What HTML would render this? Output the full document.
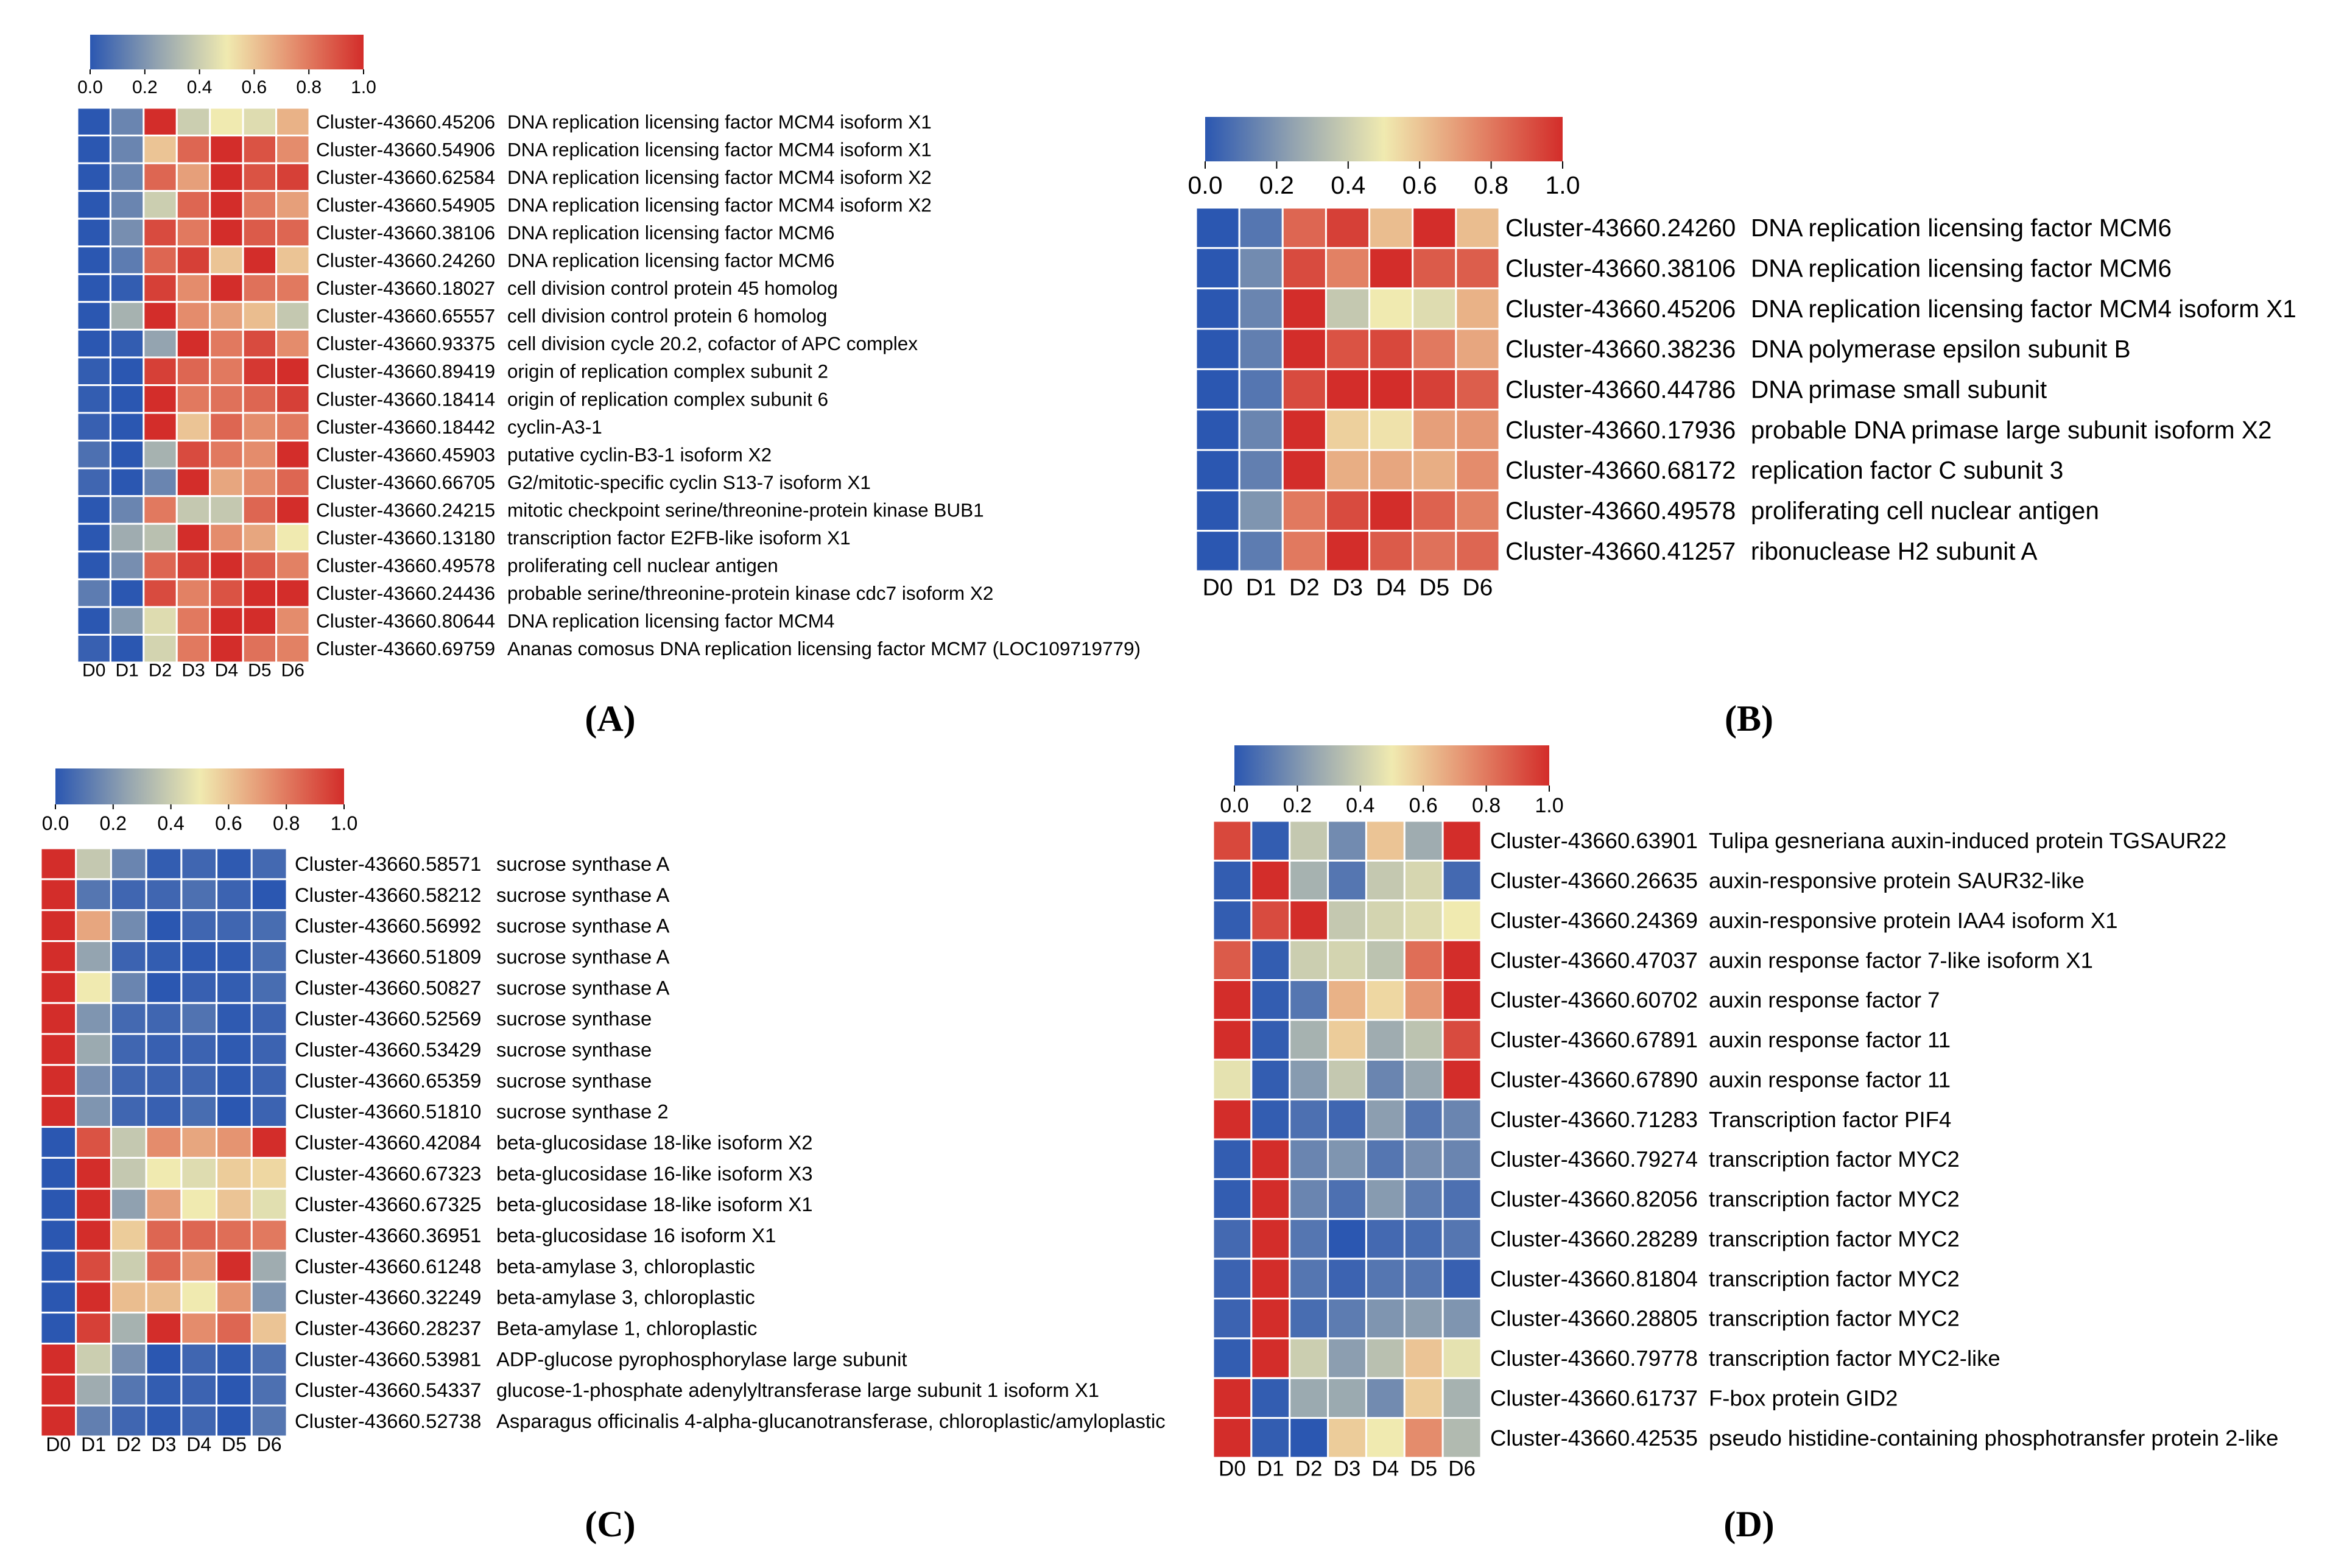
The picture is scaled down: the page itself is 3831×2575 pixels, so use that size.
<!DOCTYPE html>
<html><head><meta charset="utf-8"><style>
html,body{margin:0;padding:0;background:#fff;}
svg{display:block;font-family:"Liberation Sans",Arial,sans-serif;}
</style></head><body>
<svg id="fig" width="3831" height="2575" viewBox="0 0 3831 2575" xmlns="http://www.w3.org/2000/svg">
<defs>
<linearGradient id="cmap" x1="0" x2="1" y1="0" y2="0">
<stop offset="0" stop-color="#2b57b1"/><stop offset="0.25" stop-color="#94a4b0"/><stop offset="0.5" stop-color="#f0eab0"/><stop offset="0.75" stop-color="#e48c6c"/><stop offset="1" stop-color="#d32d2a"/>
</linearGradient>
</defs>
<text x="1002" y="1200" font-family="Liberation Serif,serif" font-weight="bold" font-size="60" text-anchor="middle">(A)</text>
<text x="2872" y="1200" font-family="Liberation Serif,serif" font-weight="bold" font-size="60" text-anchor="middle">(B)</text>
<text x="1002" y="2523" font-family="Liberation Serif,serif" font-weight="bold" font-size="60" text-anchor="middle">(C)</text>
<text x="2872" y="2523" font-family="Liberation Serif,serif" font-weight="bold" font-size="60" text-anchor="middle">(D)</text>
</svg>
<script>
const days = ["D0","D1","D2","D3","D4","D5","D6"];
const ticks = ["0.0","0.2","0.4","0.6","0.8","1.0"];

const idsA = ["45206","54906","62584","54905","38106","24260","18027","65557","93375","89419","18414","18442","45903","66705","24215","13180","49578","24436","80644","69759"];
const namesA = ["DNA replication licensing factor MCM4 isoform X1","DNA replication licensing factor MCM4 isoform X1","DNA replication licensing factor MCM4 isoform X2","DNA replication licensing factor MCM4 isoform X2","DNA replication licensing factor MCM6","DNA replication licensing factor MCM6","cell division control protein 45 homolog","cell division control protein 6 homolog","cell division cycle 20.2, cofactor of APC complex","origin of replication complex subunit 2","origin of replication complex subunit 6","cyclin-A3-1","putative cyclin-B3-1 isoform X2","G2/mitotic-specific cyclin S13-7 isoform X1","mitotic checkpoint serine/threonine-protein kinase BUB1","transcription factor E2FB-like isoform X1","proliferating cell nuclear antigen","probable serine/threonine-protein kinase cdc7 isoform X2","DNA replication licensing factor MCM4","Ananas comosus DNA replication licensing factor MCM7 (LOC109719779)"];
const valuesA = [
[0,0.15,1,0.4,0.5,0.45,0.65],[0,0.15,0.6,0.85,1,0.9,0.75],[0,0.15,0.85,0.7,1,0.9,0.95],[0,0.15,0.4,0.85,1,0.8,0.7],
[0,0.18,0.92,0.8,1,0.88,0.85],[0,0.12,0.85,0.95,0.6,1,0.6],[0,0.02,0.95,0.75,1,0.82,0.8],[0,0.3,1,0.75,0.7,0.62,0.38],
[0,0.02,0.25,1,0.8,0.92,0.75],[0.02,0,0.95,0.85,0.8,0.97,1],[0.02,0,1,0.8,0.82,0.85,0.95],[0.03,0,1,0.6,0.85,0.75,0.8],
[0.08,0,0.3,0.92,0.8,0.75,1],[0.05,0,0.15,1,0.68,0.75,0.85],[0,0.15,0.8,0.38,0.38,0.85,1],[0,0.28,0.35,1,0.75,0.68,0.5],
[0,0.18,0.85,0.95,1,0.88,0.78],[0.12,0,0.92,0.78,0.9,1,1],[0,0.22,0.45,0.8,1,1,0.75],[0.03,0,0.42,0.8,1,0.82,0.78]];

const idsB = ["24260","38106","45206","38236","44786","17936","68172","49578","41257"];
const namesB = ["DNA replication licensing factor MCM6","DNA replication licensing factor MCM6","DNA replication licensing factor MCM4 isoform X1","DNA polymerase epsilon subunit B","DNA primase small subunit","probable DNA primase large subunit isoform X2","replication factor C subunit 3","proliferating cell nuclear antigen","ribonuclease H2 subunit A"];
const valuesB = [
[0,0.1,0.85,0.95,0.62,1,0.62],[0,0.17,0.92,0.78,1,0.88,0.87],[0,0.15,1,0.38,0.5,0.45,0.65],[0,0.13,1,0.9,0.93,0.8,0.68],
[0,0.1,0.92,1,1,0.95,0.87],[0,0.15,1,0.57,0.52,0.7,0.72],[0,0.13,1,0.66,0.68,0.66,0.75],[0,0.2,0.8,0.92,1,0.86,0.78],[0,0.12,0.8,1,0.88,0.82,0.85]];

const idsC = ["58571","58212","56992","51809","50827","52569","53429","65359","51810","42084","67323","67325","36951","61248","32249","28237","53981","54337","52738"];
const namesC = ["sucrose synthase A","sucrose synthase A","sucrose synthase A","sucrose synthase A","sucrose synthase A","sucrose synthase","sucrose synthase","sucrose synthase","sucrose synthase 2","beta-glucosidase 18-like isoform X2","beta-glucosidase 16-like isoform X3","beta-glucosidase 18-like isoform X1","beta-glucosidase 16 isoform X1","beta-amylase 3, chloroplastic","beta-amylase 3, chloroplastic","Beta-amylase 1, chloroplastic","ADP-glucose pyrophosphorylase large subunit","glucose-1-phosphate adenylyltransferase large subunit 1 isoform X1","Asparagus officinalis 4-alpha-glucanotransferase, chloroplastic/amyloplastic"];
const valuesC = [
[1,0.38,0.15,0.02,0.05,0.01,0.06],[1,0.1,0.05,0.05,0.08,0.04,0],[1,0.68,0.17,0,0.05,0.05,0.07],[1,0.25,0.04,0.02,0.01,0.01,0.07],
[1,0.5,0.15,0,0.03,0.02,0.07],[1,0.2,0.06,0.05,0.09,0.01,0.04],[1,0.27,0.05,0.03,0.04,0.01,0.04],[1,0.18,0.05,0.04,0.05,0.01,0.04],
[1,0.2,0.05,0.03,0.07,0,0.04],[0,0.9,0.38,0.75,0.68,0.73,1],[0,1,0.38,0.5,0.45,0.58,0.55],[0,1,0.24,0.7,0.5,0.6,0.46],
[0,1,0.58,0.85,0.85,0.83,0.8],[0,0.92,0.4,0.85,0.72,1,0.28],[0,1,0.62,0.62,0.5,0.73,0.2],[0,0.95,0.3,1,0.75,0.85,0.6],
[1,0.4,0.18,0,0.05,0.01,0.08],[1,0.28,0.1,0.02,0.04,0,0.08],[1,0.13,0.05,0.01,0.05,0,0.1]];

const idsD = ["63901","26635","24369","47037","60702","67891","67890","71283","79274","82056","28289","81804","28805","79778","61737","42535"];
const namesD = ["Tulipa gesneriana auxin-induced protein TGSAUR22","auxin-responsive protein SAUR32-like","auxin-responsive protein IAA4 isoform X1","auxin response factor 7-like isoform X1","auxin response factor 7","auxin response factor 11","auxin response factor 11","Transcription factor PIF4","transcription factor MYC2","transcription factor MYC2","transcription factor MYC2","transcription factor MYC2","transcription factor MYC2","transcription factor MYC2-like","F-box protein GID2","pseudo histidine-containing phosphotransfer protein 2-like"];
const valuesD = [
[0.93,0.02,0.38,0.17,0.6,0.28,1],[0.02,1,0.3,0.1,0.38,0.43,0.06],[0.02,0.92,1,0.38,0.42,0.45,0.5],[0.88,0.02,0.4,0.42,0.36,0.83,1],
[1,0.02,0.1,0.65,0.55,0.72,1],[1,0.02,0.3,0.58,0.28,0.36,0.92],[0.47,0.02,0.22,0.38,0.15,0.26,1],[1,0.02,0.08,0.05,0.23,0.1,0.15],
[0.02,1,0.15,0.2,0.1,0.18,0.15],[0.02,1,0.15,0.08,0.22,0.12,0.08],[0.06,1,0.1,0,0.06,0.07,0.1],[0.04,1,0.1,0.04,0.1,0.1,0.03],
[0.04,1,0.07,0.12,0.2,0.23,0.2],[0.02,1,0.4,0.23,0.35,0.6,0.47],[1,0.02,0.27,0.27,0.17,0.58,0.3],[1,0.02,0,0.58,0.5,0.75,0.33]];

const stops=[[0,[43,87,177]],[0.25,[148,164,176]],[0.5,[240,234,176]],[0.75,[228,140,108]],[1,[211,45,42]]];
function color(v){
  v=Math.max(0,Math.min(1,v));
  for(let i=0;i<stops.length-1;i++){
    const a=stops[i],b=stops[i+1];
    if(v<=b[0]){const t=(v-a[0])/(b[0]-a[0]);
      return "rgb("+a[1].map((c,k)=>Math.round(c+(b[1][k]-c)*t)).join(",")+")";}
  }
  return "rgb(211,45,42)";
}
const NS="http://www.w3.org/2000/svg";
const svg=document.getElementById("fig");
function mk(tag,attrs,parent){const e=document.createElementNS(NS,tag);for(const k in attrs)e.setAttribute(k,attrs[k]);(parent||svg).appendChild(e);return e;}

function panel(p,ids,names,values,L){
  const g=mk("g",{});
  
  
  const cb=mk("rect",{x:L.cbx,y:L.cby,width:L.cbw,height:L.cbh,fill:"url(#cmap)"},g);
  
  
  ticks.forEach((t,i)=>{
    const x=L.cbx+L.cbw*i/(ticks.length-1);
    mk("line",{x1:x,x2:x,y1:L.cby+L.cbh,y2:L.cby+L.cbh+L.tl,stroke:"#000","stroke-width":2},g);
    const tx=mk("text",{x:x,y:L.tty,"font-size":L.tfs,"text-anchor":"middle"},g);
    tx.textContent=t;
    
    
  });
  const n=values.length, cw=(L.hx1-L.hx0)/days.length, rh=(L.hy1-L.hy0)/n;
  values.forEach((row,r)=>{
    row.forEach((v,c)=>{
      const rc=mk("rect",{x:L.hx0+c*cw,y:L.hy0+r*rh,width:cw,height:rh,fill:color(v),stroke:"#fff","stroke-width":L.sw},g);
      
      
    });
    const cy=L.hy0+(r+0.5)*rh;
    const t1=mk("text",{x:L.idx,y:cy,"font-size":L.fs,"dominant-baseline":"central"},g);
    t1.textContent="Cluster-43660."+ids[r];
    
    
    const t2=mk("text",{x:L.nx,y:cy,"font-size":L.fs,"dominant-baseline":"central"},g);
    t2.textContent=names[r];
    
    
  });
  days.forEach((d,c)=>{
    const t=mk("text",{x:L.hx0+(c+0.5)*cw,y:L.dy,"font-size":L.dfs,"text-anchor":"middle","dominant-baseline":"central"},g);
    t.textContent=d;
    
    
  });
}
panel("a",idsA,namesA,valuesA,{cbx:148,cby:57,cbw:449,cbh:57,tl:8,tty:153,tfs:30,hx0:127,hx1:508,hy0:177,hy1:1088,sw:3,idx:519,nx:833,fs:31.5,dy:1101,dfs:30});
panel("b",idsB,namesB,valuesB,{cbx:1979,cby:192,cbw:587,cbh:73,tl:12,tty:318,tfs:41,hx0:1964,hx1:2462,hy0:341,hy1:938,sw:3,idx:2472,nx:2875,fs:40.5,dy:965,dfs:39});
panel("c",idsC,namesC,valuesC,{cbx:91,cby:1262,cbw:474,cbh:59,tl:8,tty:1363,tfs:32,hx0:67,hx1:471,hy0:1393,hy1:2359,sw:3,idx:484,nx:815,fs:32.8,dy:2372,dfs:32});
panel("d",idsD,namesD,valuesD,{cbx:2027,cby:1224,cbw:517,cbh:66,tl:10,tty:1334,tfs:34,hx0:1992,hx1:2432,hy0:1348,hy1:2394,sw:3,idx:2447,nx:2806,fs:36.5,dy:2412,dfs:35});
</script>
</body></html>
